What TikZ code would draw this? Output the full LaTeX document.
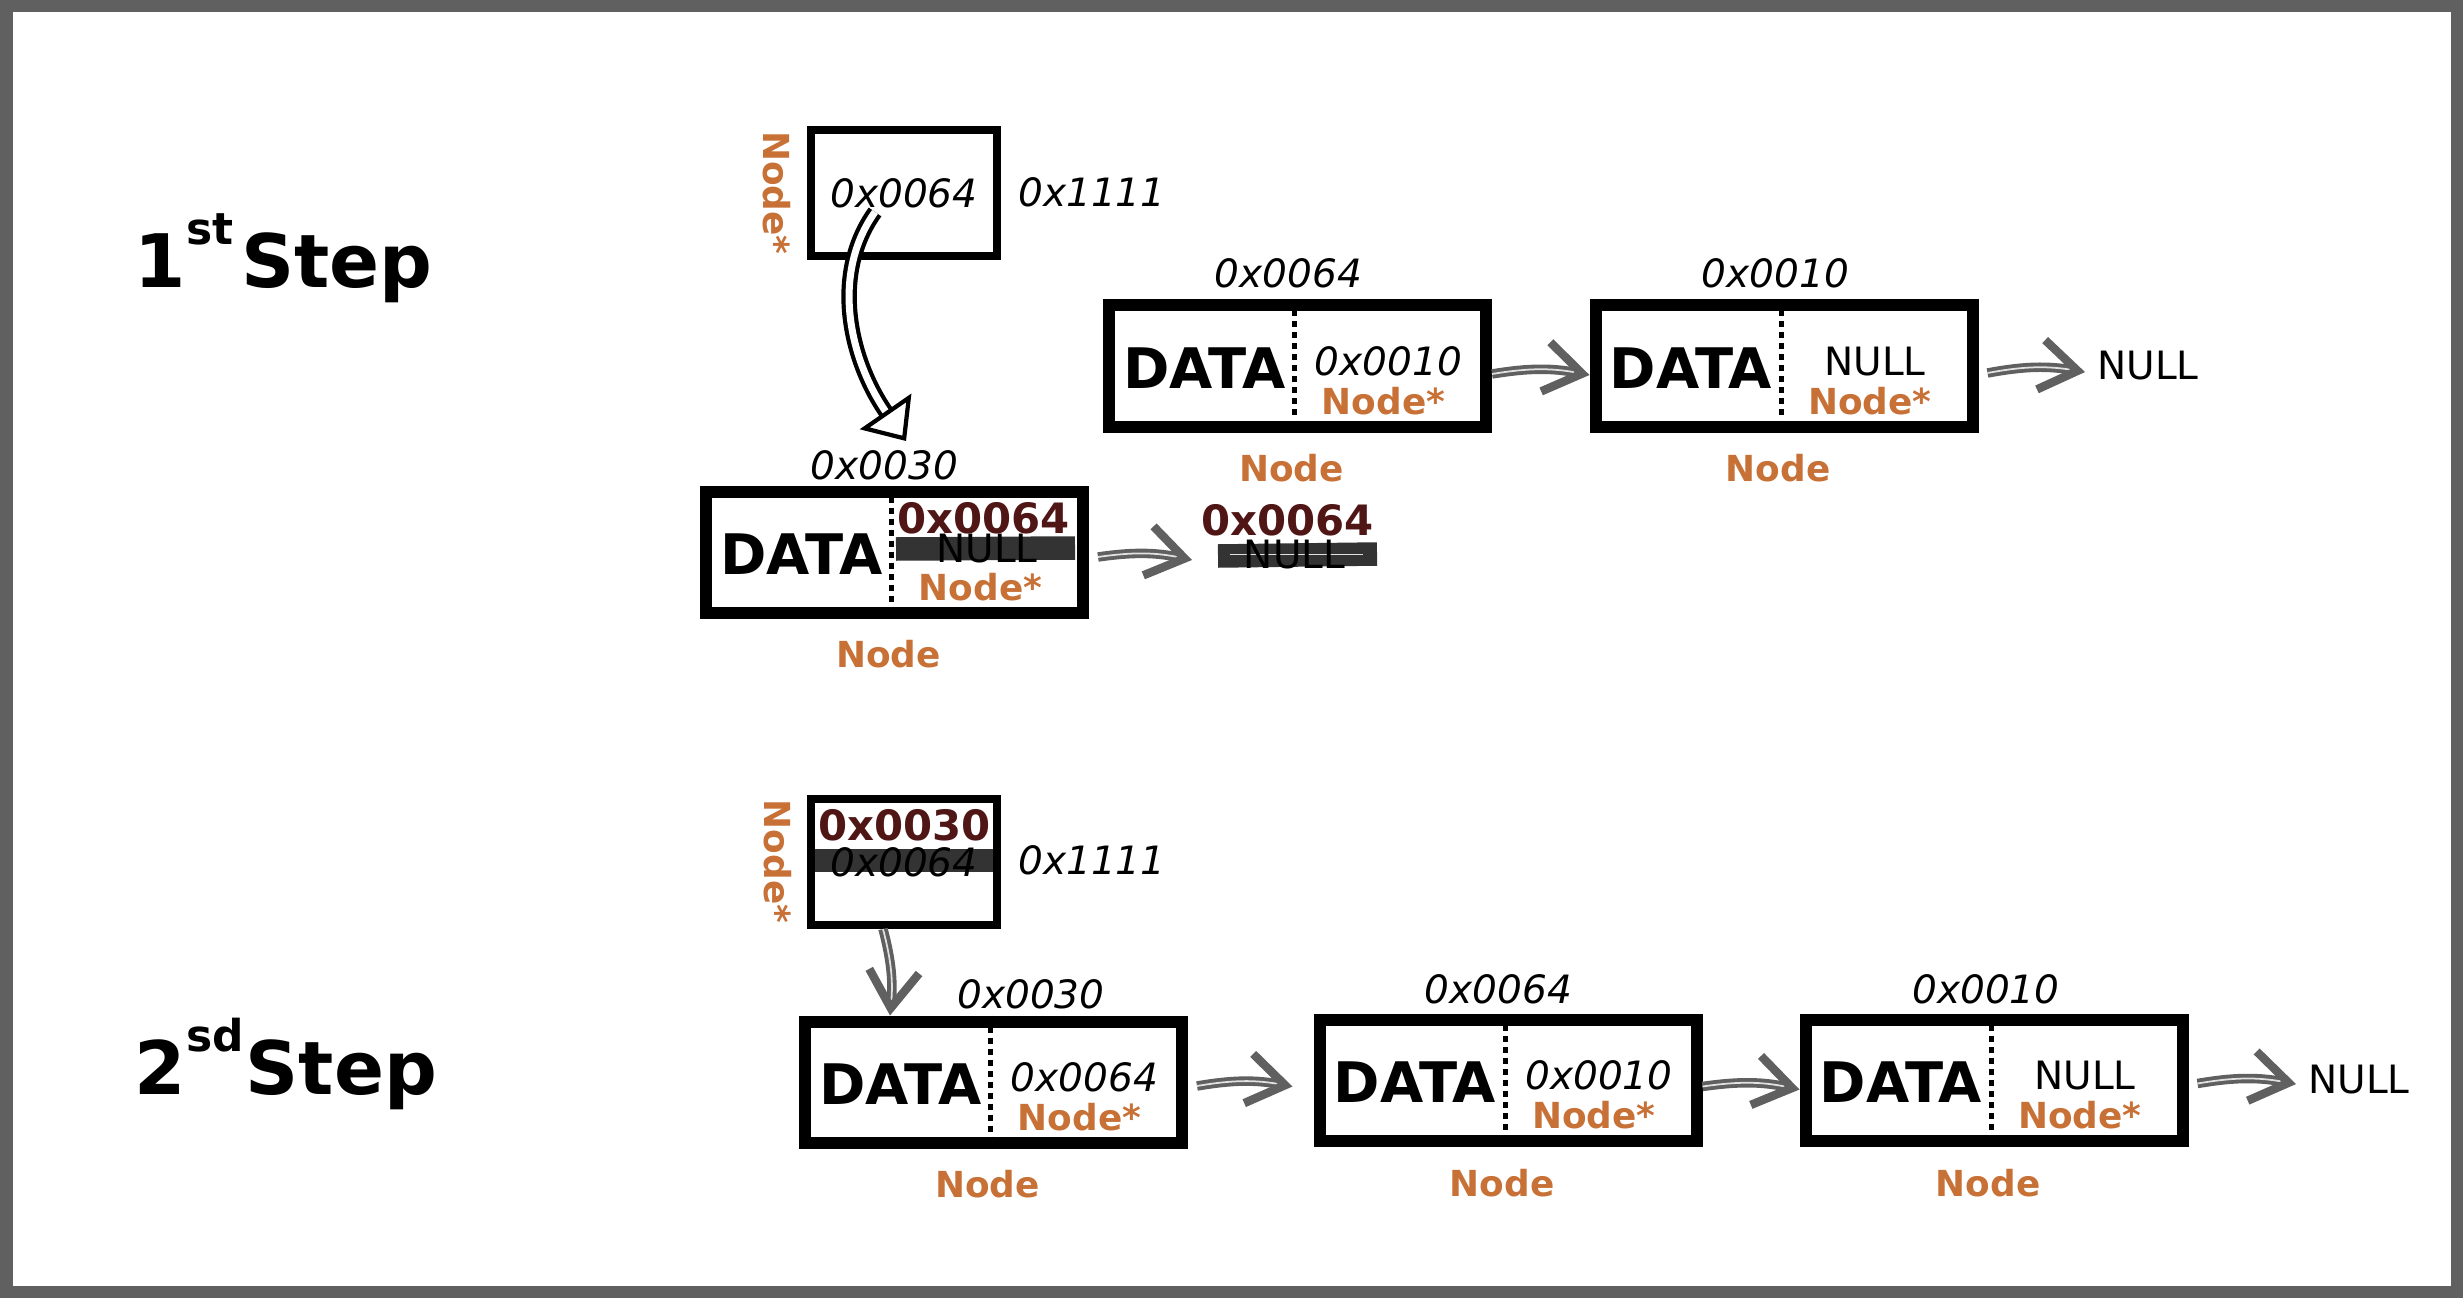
\documentclass[tikz,border=0pt]{standalone}
\usepackage{fontspec}
\setmainfont{DejaVu Sans}
\usepackage{tikz}
\usetikzlibrary{arrows.meta,positioning,backgrounds}
\definecolor{nodeorange}{RGB}{200,113,55}
\definecolor{newred}{RGB}{80,22,22}
\definecolor{arrowgray}{RGB}{96,96,96}
\definecolor{innergray}{RGB}{225,225,225}
\definecolor{strikegray}{RGB}{51,51,51}

\begin{document}
\begin{tikzpicture}[
  box/.style={draw, line width=0.12cm, minimum width=3.77cm, minimum height=1.21cm, inner sep=0},
  ptrbox/.style={draw, line width=0.08cm, minimum width=1.86cm, minimum height=1.26cm, inner sep=0, font=\fontsize{11.1}{13}\selectfont\itshape},
  addr/.style={font=\fontsize{11.1}{13}\selectfont\itshape, inner sep=0},
  nul/.style={font=\fontsize{11.1}{13}\selectfont},
  data/.style={font=\fontsize{15.9}{18}\selectfont\bfseries, inner sep=0},
  typ/.style={text=nodeorange, font=\fontsize{10.2}{12}\selectfont\bfseries, inner sep=0},
  newaddr/.style={text=newred, font=\fontsize{11.9}{14}\selectfont\bfseries, inner sep=0},
  divider/.style={line width=0.05cm, dash pattern=on 0.06cm off 0.05cm},
  strike/.style={strikegray, line width=0.235cm},
  gptr/.style={arrowgray, double=innergray, line width=1.1pt, double distance=0.5pt, -{Straight Barb[length=0.37cm, width=0.5cm, line width=2.4pt]}},
  wptr/.style={black, double=white, line width=1.2pt, double distance=2pt, -{Triangle[open, length=0.36cm, width=0.62cm]}},
  steplbl/.style={font=\fontsize{21}{24}\selectfont\bfseries, inner sep=0}
]
  \useasboundingbox (0,0) rectangle (24.63,12.98);
  % frame
  \draw[arrowgray, line width=0.125cm] (0.0625,0.0625) rectangle (24.5675,12.9175);

  % step titles
  \node[steplbl, anchor=base west] (step1) at (1.34,10.1) {1\raisebox{0.43cm}{\fontsize{12.5}{14}\selectfont st}\hspace{0.08cm}Step};
  \node[steplbl, anchor=base west] (step2) at (1.34,2.04) {2\raisebox{0.43cm}{\fontsize{12.5}{14}\selectfont sd}\hspace{0.02cm}Step};

  % list nodes
  \foreach \nm/\cx/\cy/\lab/\lx/\ly/\nxt in {
      A1/8.945/7.46/0x0030/-0.10/0.73/{},
      B1/12.975/9.32/0x0064/-0.09/0.79/{\itshape 0x0010},
      C1/17.84/9.32/0x0010/-0.085/0.79/NULL,
      A2/9.935/2.16/0x0030/0.375/0.74/{\itshape 0x0064},
      B2/15.08/2.175/0x0064/-0.095/0.775/{\itshape 0x0010},
      C2/19.94/2.175/0x0010/-0.08/0.775/NULL} {
    \node[box] (\nm) at (\cx,\cy) {};
    \draw[divider] ([xshift=-0.03cm]\nm.north) -- ([xshift=-0.03cm]\nm.south);
    \node[data, anchor=base] (\nm-data) at ([xshift=-0.93cm, yshift=-0.22cm]\nm.center) {DATA};
    \node[nul, anchor=base] (\nm-next) at ([xshift=0.91cm, yshift=-0.09cm]\nm.center) {\nxt};
    \node[typ, anchor=base] (\nm-type) at ([xshift=0.86cm, yshift=-0.48cm]\nm.center) {Node*};
    \node[typ, anchor=base] (\nm-lbl) at ([xshift=-0.06cm, yshift=-1.155cm]\nm.center) {Node};
    \node[addr, anchor=base] (\nm-addr) at ([xshift=\lx cm, yshift=\ly cm]\nm.center) {\lab};
  }

  % step 1: pointer
  \node[ptrbox] (pb1) at (9.04,11.05) {0x0064};
  \node[typ, rotate=-90] (pb1-type) at (7.77,11.05) {Node*};
  \node[addr, anchor=base] (pb1-addr) at (10.92,10.91) {0x1111};

  % step 1: new next of A1
  \begin{scope}[on background layer]
    \draw[strike] (8.96,7.49) -- (10.75,7.50);
  \end{scope}
  \node[nul, anchor=base] (A1-old) at (9.87,7.36) {NULL};
  \node[newaddr, anchor=base] (A1-new) at (9.835,7.65) {0x0064};

  % step 1: old NULL, struck
  \draw[strike] (12.18,7.42) -- (13.77,7.44);
  \draw[innergray, line width=0.4pt] (12.30,7.435) -- (13.63,7.435);
  \node[nul, anchor=base] (old1) at (12.945,7.30) {NULL};
  \node[newaddr, anchor=base] (new1) at (12.875,7.63) {0x0064};
  \coordinate (old1-in) at (11.92,7.38);

  \node[nul, anchor=base] (nul1) at (21.48,9.18) {NULL};

  % step 1 arrows
  \draw[wptr] ([xshift=-0.29cm,yshift=-0.19cm]pb1.center) .. controls (8.30,10.23) and (8.50,9.38) .. ([xshift=0.115cm,yshift=0.445cm]A1.north);
  \draw[gptr] ([xshift=0.09cm,yshift=-0.05cm]A1.east) to[bend left=10] (old1-in);
  \draw[gptr] ([yshift=-0.08cm]B1.east) to[bend left=10] ([yshift=-0.09cm]C1.west);
  \draw[gptr] ([xshift=0.09cm,yshift=-0.07cm]C1.east) to[bend left=10] ([yshift=-0.06cm]nul1.west);

  % step 2: pointer
  \begin{scope}[on background layer]
    \draw[strike] ([yshift=0.015cm]9.04,4.36) ++(-0.93,0) -- ++(1.86,0);
  \end{scope}
  \node[ptrbox] (pb2) at (9.04,4.36) {0x0064};
  \node[newaddr, anchor=base] (pb2-new) at (9.045,4.58) {0x0030};
  \node[typ, rotate=-90] (pb2-type) at (7.775,4.365) {Node*};
  \node[addr, anchor=base] (pb2-addr) at (10.92,4.24) {0x1111};

  \node[nul, anchor=base] (nul2) at (23.59,2.05) {NULL};

  % step 2 arrows
  \draw[gptr] ([xshift=-0.21cm]pb2.south) to[bend left=10] ([xshift=0.91cm]A2.north west);
  \draw[gptr] ([xshift=0.09cm,yshift=-0.04cm]A2.east) to[bend left=10] ([xshift=-0.21cm,yshift=-0.06cm]B2.west);
  \draw[gptr] ([yshift=-0.06cm]B2.east) to[bend left=10] ([yshift=-0.09cm]C2.west);
  \draw[gptr] ([xshift=0.09cm,yshift=-0.03cm]C2.east) to[bend left=10] ([yshift=-0.05cm]nul2.west);
\end{tikzpicture}
\end{document}
